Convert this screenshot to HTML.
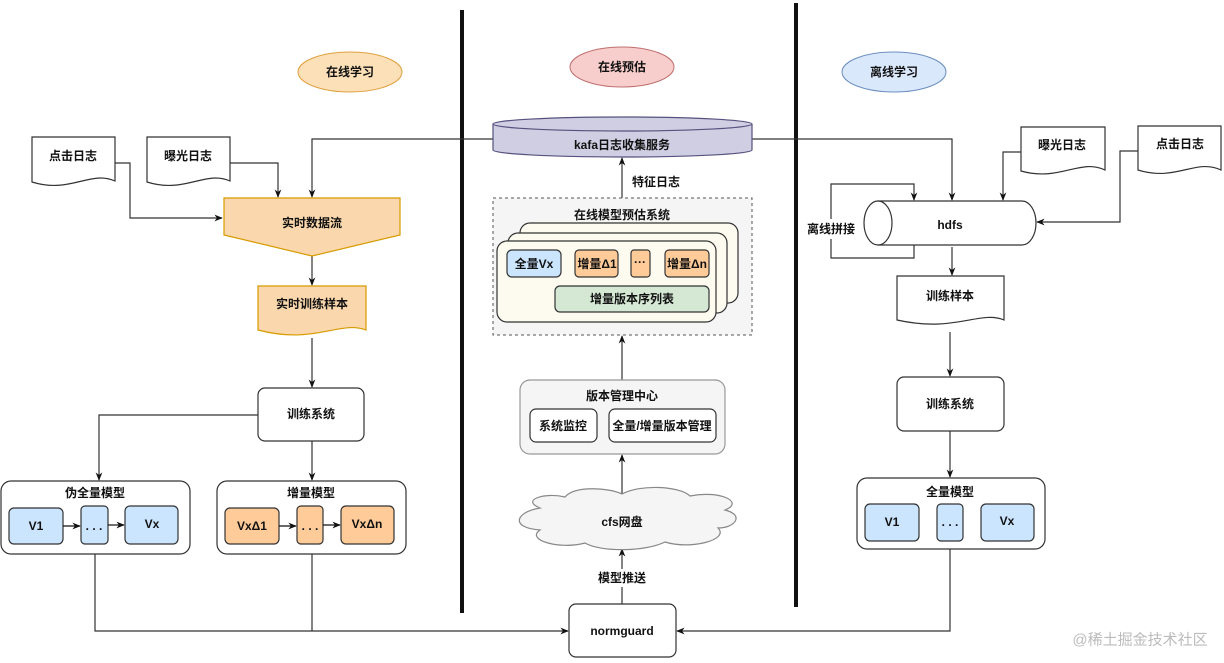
<!DOCTYPE html>
<html><head><meta charset="utf-8"><style>
html,body{margin:0;padding:0;background:#fff;}
svg text{font-family:"Liberation Sans","Noto Sans CJK SC",sans-serif;font-weight:bold;font-size:12px;fill:#111;text-anchor:middle;dominant-baseline:central;}
</style></head><body>
<svg width="1224" height="658" viewBox="0 0 1224 658" xmlns="http://www.w3.org/2000/svg">
<defs>
<marker id="a" viewBox="0 0 10 10" refX="9" refY="5" markerWidth="7" markerHeight="7" orient="auto"><path d="M0,1 L10,5 L0,9 L3,5 z" fill="#111"/></marker>
</defs>
<g stroke="#111" stroke-width="1" fill="none">
<!-- separators -->
<line x1="462" y1="10" x2="462" y2="613" stroke-width="4"/>
<line x1="796" y1="3" x2="796" y2="607" stroke-width="4"/>
</g>
<!-- title ellipses -->
<ellipse cx="350" cy="72" rx="52" ry="20" fill="#fbe0b8" stroke="#e0a040"/>
<text x="350" y="72">在线学习</text>
<ellipse cx="622" cy="67" rx="52" ry="20" fill="#f8cecc" stroke="#c07070"/>
<text x="622" y="67">在线预估</text>
<ellipse cx="894" cy="72" rx="52" ry="20" fill="#dae8fc" stroke="#6c8ebf"/>
<text x="894" y="72">离线学习</text>

<!-- connectors -->
<g stroke="#333" stroke-width="1.2" fill="none">
<path d="M115,163 H130 V218 H222" marker-end="url(#a)"/>
<path d="M230,163 H278 V197" marker-end="url(#a)"/>
<path d="M493,139 H312 V197" marker-end="url(#a)"/>
<path d="M312,256 V285" marker-end="url(#a)"/>
<path d="M312,338 V387" marker-end="url(#a)"/>
<path d="M258,415 H99 V480" marker-end="url(#a)"/>
<path d="M312,441 V480" marker-end="url(#a)"/>
<path d="M95,554 V631 H568" marker-end="url(#a)"/>
<path d="M312,554 V631"/>
<path d="M950,549 V631 H677" marker-end="url(#a)"/>
<path d="M622,604 V549" marker-end="url(#a)"/>
<path d="M622,495 V455" marker-end="url(#a)"/>
<path d="M622,380 V336" marker-end="url(#a)"/>
<path d="M622,198 V158" marker-end="url(#a)"/>
<path d="M752,139 H952 V200" marker-end="url(#a)"/>
<path d="M1021,152 H1003 V200" marker-end="url(#a)"/>
<path d="M1138,151 H1120 V222 H1037" marker-end="url(#a)"/>
<path d="M914,245 V258 H831 V184 H914 V200" marker-end="url(#a)"/>
<path d="M952,247 V275" marker-end="url(#a)"/>
<path d="M950,332 V376" marker-end="url(#a)"/>
<path d="M950,431 V477" marker-end="url(#a)"/>
</g>

<!-- left docs -->
<g stroke="#333" stroke-width="1.2">
<path d="M32,137 H115 V181 C90,170 70,194 32,182 Z" fill="#fff"/>
<path d="M147,137 H230 V181 C205,170 185,194 147,182 Z" fill="#fff"/>
<path d="M224,198 H400 V235 L312,256 L224,235 Z" fill="#fad7ac" stroke="#d79b00"/>
<path d="M258,286 H366 V330 C340,320 315,345 258,330 Z" fill="#fad7ac" stroke="#d79b00"/>
<rect x="258" y="388" width="106" height="53" rx="7" fill="#fff"/>
<rect x="1" y="481" width="189" height="73" rx="10" fill="#fff"/>
<rect x="9" y="508" width="54" height="36" rx="5" fill="#cce5ff"/>
<rect x="81" y="506" width="27" height="38" rx="4" fill="#cce5ff"/>
<rect x="125" y="506" width="53" height="38" rx="5" fill="#cce5ff"/>
<rect x="217" y="481" width="189" height="73" rx="10" fill="#fff"/>
<rect x="225" y="508" width="54" height="36" rx="5" fill="#ffcc99"/>
<rect x="297" y="506" width="26" height="38" rx="4" fill="#ffcc99"/>
<rect x="341" y="506" width="53" height="38" rx="5" fill="#ffcc99"/>
<rect x="569" y="604" width="107" height="53" rx="7" fill="#fff"/>
</g>
<g stroke="#111" stroke-width="1.2" fill="none">
<path d="M63,526 H80" marker-end="url(#a)"/><path d="M108,525 H124" marker-end="url(#a)"/>
<path d="M279,526 H296" marker-end="url(#a)"/><path d="M323,525 H340" marker-end="url(#a)"/>
<path d="M919,523 H936" marker-end="url(#a)"/><path d="M963,522 H980" marker-end="url(#a)"/>
<path d="M561,264 H574" marker-end="url(#a)"/><path d="M618,264 H630" marker-end="url(#a)"/><path d="M650,264 H664" marker-end="url(#a)"/>
</g>
<text x="73" y="156">点击日志</text>
<text x="188" y="156">曝光日志</text>
<text x="312" y="223">实时数据流</text>
<text x="312" y="304">实时训练样本</text>
<text x="311" y="414">训练系统</text>
<text x="95" y="493">伪全量模型</text>
<text x="36" y="526">V1</text><text x="94" y="526">. . .</text><text x="152" y="524">Vx</text>
<text x="311" y="493">增量模型</text>
<text x="252" y="526">VxΔ1</text><text x="310" y="526">. . .</text><text x="367" y="524">VxΔn</text>
<text x="622" y="631">normguard</text>

<!-- middle -->
<g stroke="#56517e" stroke-width="1.2">
<path d="M493,124 V150 A129.5,7 0 0 0 752,150 V124" fill="#d0cee2"/>
<ellipse cx="622.5" cy="124" rx="129.5" ry="7" fill="#d0cee2"/>
</g>
<text x="622" y="145">kafa日志收集服务</text>
<rect x="630" y="172" width="54" height="18" fill="#fff"/>
<text x="656" y="182">特征日志</text>
<rect x="493" y="198" width="259" height="137" fill="#f5f5f5" stroke="#555" stroke-dasharray="3,3"/>
<text x="622" y="215">在线模型预估系统</text>
<g stroke="#333" stroke-width="1.2">
<rect x="520" y="223" width="218" height="80" rx="10" fill="#fdfbef"/>
<rect x="508" y="233" width="219" height="80" rx="10" fill="#fdfbef"/>
<rect x="497" y="241" width="219" height="81" rx="10" fill="#fdfbef"/>
<rect x="507" y="250" width="54" height="27" rx="5" fill="#cce5ff"/>
<rect x="575" y="250" width="43" height="27" rx="4" fill="#ffcc99"/>
<rect x="631" y="250" width="19" height="27" rx="3" fill="#ffcc99"/>
<rect x="665" y="250" width="44" height="27" rx="4" fill="#ffcc99"/>
<rect x="555" y="286" width="154" height="26" rx="5" fill="#d5e8d4"/>
<rect x="520" y="380" width="205" height="74" rx="10" fill="#f5f5f5" stroke="#999"/>
<rect x="530" y="409" width="67" height="33" rx="6" fill="#fff"/>
<rect x="609" y="409" width="107" height="33" rx="6" fill="#fff"/>
</g>
<text x="534" y="264">全量Vx</text>
<text x="597" y="264">增量Δ1</text>
<text x="640" y="262">···</text>
<text x="687" y="264">增量Δn</text>
<text x="632" y="299">增量版本序列表</text>
<text x="622" y="396">版本管理中心</text>
<text x="563" y="426">系统监控</text>
<text x="662" y="426">全量/增量版本管理</text>
<path d="M540,508 C520,500 545,492 565,497 C575,485 610,488 622,494 C640,484 680,486 690,496 C720,490 745,502 725,510 C745,515 735,528 718,528 C730,540 690,550 665,542 C645,552 600,552 585,543 C560,550 525,540 540,530 C510,528 515,512 540,508 Z" fill="#f5f5f5" stroke="#888" stroke-width="1.2"/>
<text x="622" y="522">cfs网盘</text>
<rect x="596" y="569" width="52" height="18" fill="#fff"/>
<text x="622" y="578">模型推送</text>

<!-- right -->
<g stroke="#333" stroke-width="1.2">
<path d="M878,201 H1022 A14,22 0 0 1 1022,245 H878 Z" fill="#fff"/>
<ellipse cx="878" cy="223" rx="14" ry="22" fill="#fff"/>
<path d="M1021,127 H1105 V170 C1080,158 1060,182 1021,171 Z" fill="#fff"/>
<path d="M1138,126 H1221 V170 C1196,158 1176,182 1138,170 Z" fill="#fff"/>
<path d="M897,276 H1004 V320 C980,310 955,333 897,320 Z" fill="#fff"/>
<rect x="897" y="377" width="107" height="54" rx="7" fill="#fff"/>
<rect x="857" y="478" width="188" height="71" rx="10" fill="#fff"/>
<rect x="865" y="504" width="54" height="37" rx="5" fill="#cce5ff"/>
<rect x="937" y="504" width="26" height="37" rx="4" fill="#cce5ff"/>
<rect x="981" y="504" width="53" height="37" rx="5" fill="#cce5ff"/>
</g>
<text x="950" y="225">hdfs</text>
<rect x="805" y="219" width="52" height="20" fill="#fff"/>
<text x="831" y="229">离线拼接</text>
<text x="1062" y="145">曝光日志</text>
<text x="1180" y="144">点击日志</text>
<text x="950" y="296">训练样本</text>
<text x="950" y="404">训练系统</text>
<text x="950" y="492">全量模型</text>
<text x="892" y="522">V1</text><text x="950" y="522">. . .</text><text x="1007" y="521">Vx</text>

<text x="1140" y="640" style="font-weight:normal;font-size:15px;fill:#bbb">@稀土掘金技术社区</text>
</svg>
</body></html>
